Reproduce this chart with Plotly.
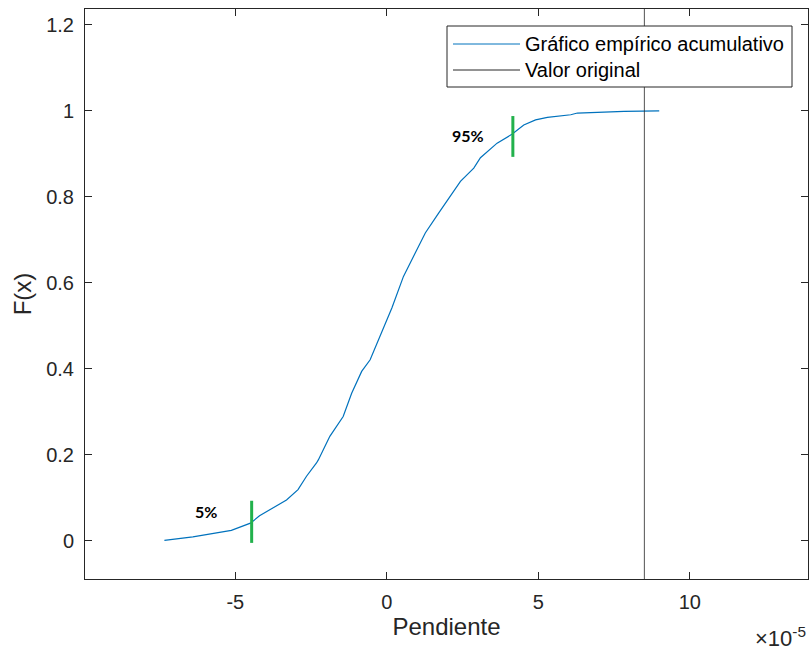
import plotly.graph_objects as go

# Empirical CDF of the slope (units of 1e-5)
ecdf_x = [-7.34, -6.40, -5.13, -4.50, -4.20, -3.75, -3.31, -2.93, -2.65, -2.32,
          -2.26, -1.88, -1.44, -1.16, -0.83, -0.55, -0.17, 0.17, 0.55, 0.94,
          1.27, 1.71, 2.09, 2.43, 2.87, 3.09, 3.64, 4.14, 4.52, 4.91,
          5.30, 6.07, 6.29, 7.83, 8.99]
ecdf_f = [0.001, 0.009, 0.024, 0.041, 0.058, 0.076, 0.095, 0.119, 0.150, 0.181,
          0.188, 0.243, 0.289, 0.343, 0.394, 0.421, 0.487, 0.542, 0.615, 0.669,
          0.716, 0.762, 0.801, 0.836, 0.867, 0.891, 0.925, 0.946, 0.967, 0.979,
          0.985, 0.991, 0.995, 0.999, 1.000]

original_value = 8.5

# Percentile markers
pct_labels = ["5%", "95%"]
pct_x = [-4.46, 4.16]
pct_lo = [-0.005, 0.893]
pct_hi = [0.093, 0.988]
pct_text_x = [-5.97, 2.68]
pct_text_y = [0.067, 0.942]

x_range = [-9.96, 13.9]
y_range = [-0.089, 1.237]

AX = "#262626"
BLUE = "#0072BD"
GREEN = "#22B14C"
FAM = "Liberation Sans, Arial, sans-serif"
TICKFONT = dict(family=FAM, size=20, color=AX)

fig = go.Figure()

fig.add_trace(go.Scatter(x=ecdf_x, y=ecdf_f, mode="lines",
                         line=dict(color=BLUE, width=1.2),
                         name="Gráfico empírico acumulativo", showlegend=False))

fig.add_trace(go.Scatter(x=[original_value, original_value], y=y_range, mode="lines",
                         line=dict(color=AX, width=0.8),
                         name="Valor original", showlegend=False))

for px, lo, hi in zip(pct_x, pct_lo, pct_hi):
    fig.add_trace(go.Scatter(x=[px, px], y=[lo, hi], mode="lines",
                             line=dict(color=GREEN, width=3), showlegend=False))

for lab, tx, ty in zip(pct_labels, pct_text_x, pct_text_y):
    fig.add_annotation(x=tx, y=ty, text=f"<b>{lab}</b>", showarrow=False,
                       font=dict(family="Lato, sans-serif", size=16, color="#000000"),
                       xanchor="center", yanchor="middle")

# Legend box drawn in pixel-aligned paper coordinates
W, H = 812, 651
L, R, T, B = 85, 4, 9, 72
pw, ph = W - L - R, H - T - B

def px2paper(xp, yp):
    return (xp - L) / pw, 1 - (yp - T) / ph

x0, y0 = px2paper(447, 26)
x1, y1 = px2paper(792, 87)
fig.add_shape(type="rect", xref="paper", yref="paper", x0=x0, y0=y0, x1=x1, y1=y1,
              line=dict(color=AX, width=1), fillcolor="white", layer="above")
legend_items = [("Gráfico empírico acumulativo", BLUE, 44), ("Valor original", AX, 70)]
for text, col, yp in legend_items:
    lx0, ly = px2paper(453, yp)
    lx1, _ = px2paper(520, yp)
    fig.add_shape(type="line", xref="paper", yref="paper", x0=lx0, x1=lx1, y0=ly, y1=ly,
                  line=dict(color=col, width=1), layer="above")
    tx, _ = px2paper(523, yp)
    fig.add_annotation(xref="paper", yref="paper", x=tx, y=ly, text=text, showarrow=False,
                       xanchor="left", yanchor="middle",
                       font=dict(family=FAM, size=20, color="#000000"))

fig.add_annotation(xref="paper", yref="paper", x=1.0, y=px2paper(0, 621)[1],
                   text="×10<sup>-5</sup>", showarrow=False, xanchor="right", yanchor="top",
                   font=dict(family=FAM, size=22, color=AX))

axis_common = dict(showline=True, linecolor=AX, linewidth=1, mirror="ticks",
                   ticks="inside", ticklen=7, tickcolor=AX, tickwidth=1,
                   showgrid=False, zeroline=False, tickfont=TICKFONT)

fig.update_xaxes(range=x_range, tickvals=[-5, 0, 5, 10], ticktext=["-5", "0", "5", "10"],
                 title=dict(text="Pendiente", font=dict(family=FAM, size=24, color=AX), standoff=6),
                 ticklabelstandoff=5, **axis_common)
fig.update_yaxes(range=y_range, tickvals=[0, 0.2, 0.4, 0.6, 0.8, 1.0, 1.2],
                 ticktext=["0", "0.2", "0.4", "0.6", "0.8", "1", "1.2"],
                 title=dict(text="F(x)", font=dict(family=FAM, size=24, color=AX), standoff=7),
                 ticklabelstandoff=6, **axis_common)

fig.update_layout(width=W, height=H, margin=dict(l=L, r=R, t=T, b=B, autoexpand=False),
                  plot_bgcolor="white", paper_bgcolor="white", showlegend=False)

fig.write_html("out.html")
